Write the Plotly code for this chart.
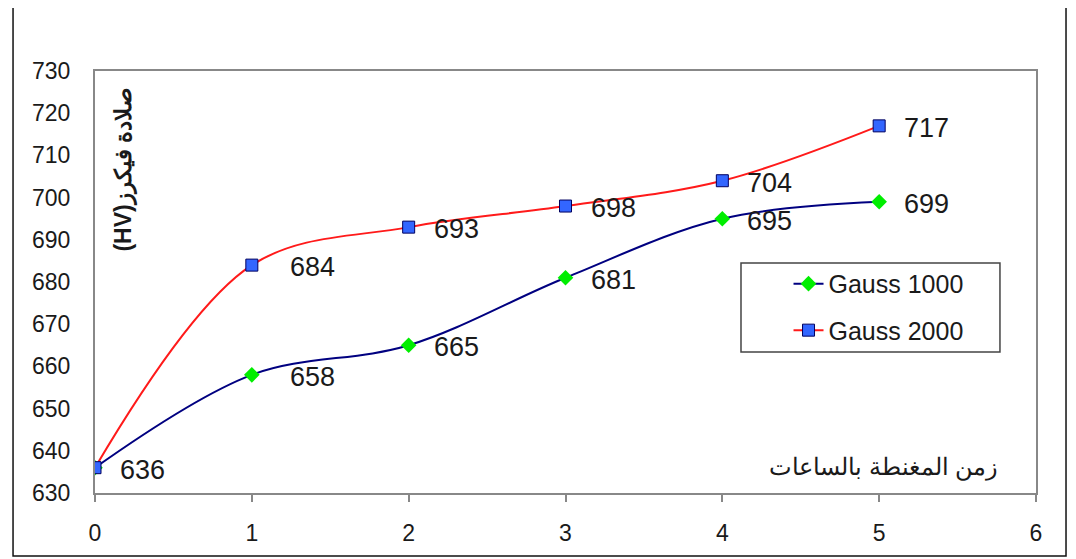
import plotly.graph_objects as go

hours = [0, 1, 2, 3, 4, 5]
gauss_1000 = [636, 658, 665, 681, 695, 699]
gauss_2000 = [636, 684, 693, 698, 704, 717]
series_names = ["Gauss 1000", "Gauss 2000"]
y_ticks = [630, 640, 650, 660, 670, 680, 690, 700, 710, 720, 730]
x_ticks = [0, 1, 2, 3, 4, 5, 6]
y_title = "(HV)صلادة فيكرز"
x_title = "زمن المغنطة بالساعات"

FONT = "Liberation Sans, Arial, sans-serif"
TXT = "#1a1a1a"

fig = go.Figure()
fig.add_trace(go.Scatter(
    x=hours, y=gauss_1000, name=series_names[0], mode="lines+markers", legendgroup="g1",
    line=dict(color="#000080", width=2, shape="spline", smoothing=1),
    marker=dict(symbol="diamond", size=12, color="#00ee00", line=dict(width=0)),
))
fig.add_trace(go.Scatter(
    x=hours, y=gauss_2000, name=series_names[1], mode="lines+markers", legendgroup="g2",
    line=dict(color="#ff1a1a", width=2, shape="spline", smoothing=1),
    marker=dict(symbol="square", size=12, color="#3366ff", line=dict(width=1, color="#000060")),
))

# data labels
for i, (xv, yv) in enumerate(zip(hours, gauss_2000)):
    fig.add_annotation(x=xv, y=yv, text=str(yv), showarrow=False, xanchor="left",
                       xshift=36 if i == 1 else 23, yshift=-2,
                       font=dict(family=FONT, size=27, color=TXT))
for i, (xv, yv) in enumerate(zip(hours, gauss_1000)):
    if i == 0:
        continue
    fig.add_annotation(x=xv, y=yv, text=str(yv), showarrow=False, xanchor="left",
                       xshift=36 if i == 1 else 23, yshift=-2,
                       font=dict(family=FONT, size=27, color=TXT))

# axis titles inside plot area
fig.add_annotation(xref="paper", yref="paper", x=0.031, y=0.967, text=y_title,
                   textangle=-90, showarrow=False, xanchor="center", yanchor="top",
                   font=dict(family=FONT, size=23, color=TXT, weight="bold"))
fig.add_annotation(xref="paper", yref="paper", x=0.962, y=0.024, text=x_title,
                   showarrow=False, xanchor="right", yanchor="bottom",
                   font=dict(family=FONT, size=24, color=TXT))

# legend frame
fig.add_shape(type="rect", xref="paper", yref="paper",
              x0=0.6865, x1=0.9617, y0=0.334, y1=0.545,
              line=dict(color="#444444", width=1.5), fillcolor="white", layer="below")

# outer chart border
fig.add_shape(type="rect", xref="paper", yref="paper",
              x0=-0.0871, x1=1.0319, y0=-0.149, y1=1.1564,
              line=dict(color="#111111", width=1.5), layer="below")

fig.update_layout(
    width=1068, height=551,
    margin=dict(l=87, r=40, t=63, b=66),
    paper_bgcolor="white", plot_bgcolor="white",
    font=dict(family=FONT, color=TXT),
    showlegend=True,
    legend=dict(x=0.737, y=0.55, xanchor="left", yanchor="top",
                borderwidth=0, bgcolor="rgba(0,0,0,0)",
                font=dict(family=FONT, size=25, color=TXT),
                tracegroupgap=11),
    xaxis=dict(range=[0, 6], tickvals=x_ticks, showgrid=False, zeroline=False,
               showline=True, linecolor="#888888", linewidth=2, mirror=True,
               ticks="outside", ticklen=7, tickcolor="#888888", tickwidth=2,
               ticklabelstandoff=11,
               tickfont=dict(family=FONT, size=23, color=TXT)),
    yaxis=dict(range=[630, 730], tickvals=y_ticks, showgrid=False, zeroline=False,
               showline=True, linecolor="#888888", linewidth=2, mirror=True,
               ticks="", ticklabelstandoff=18,
               tickfont=dict(family=FONT, size=23, color=TXT)),
)

fig.write_html("out.html")
